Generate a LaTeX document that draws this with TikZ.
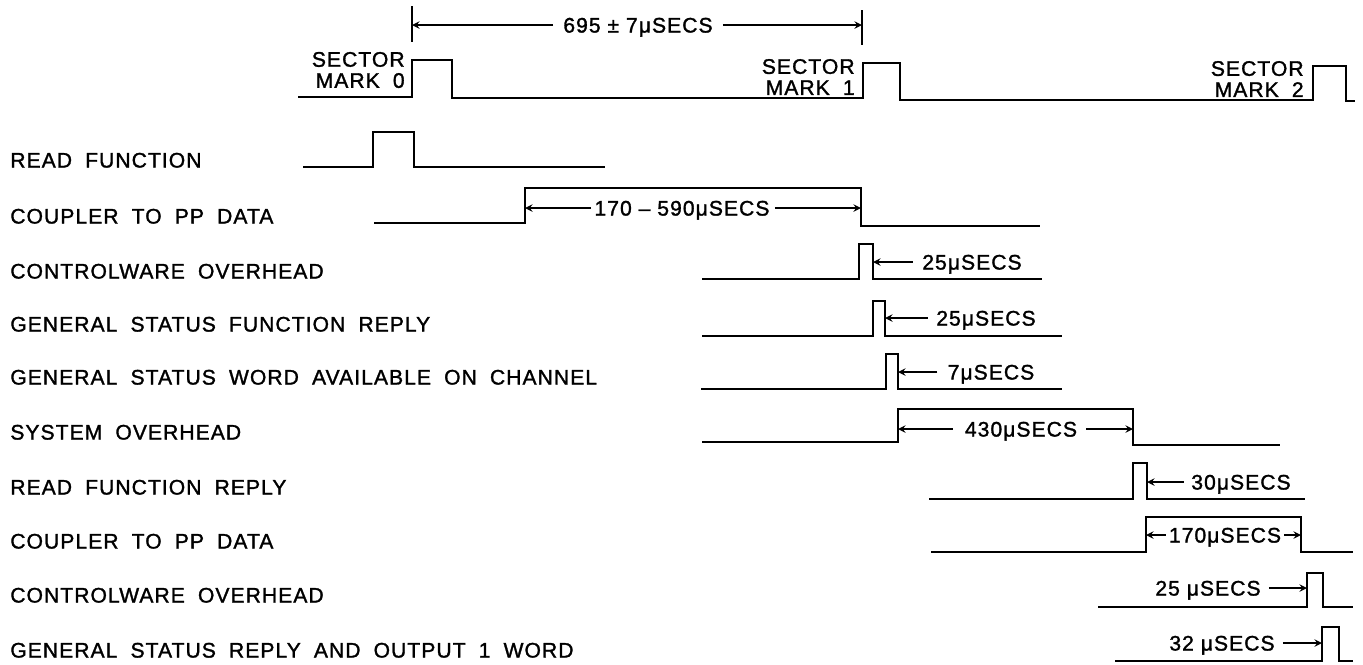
\documentclass[tikz,border=0pt]{standalone}
\usepackage{fontspec}
\setmainfont{Liberation Sans}[LetterSpace=5, WordSpace=1.9, FakeBold=1.4]
\newfontfamily\valuefont{Liberation Sans}[LetterSpace=5, FakeBold=1.4]
\begin{document}
\begin{tikzpicture}[x=0.02cm, y=-0.02cm, >=stealth]
    \tikzset{sig/.style={line width=1.3pt, line join=miter},
             dim/.style={->, line width=0.9pt},
             lbl/.style={inner sep=0pt, text height=8.6pt, text depth=0pt, font=\fontsize{12}{14}\selectfont},
             timelbl/.style={lbl, font=\valuefont\fontsize{12}{14}\selectfont},
             sectorlbl/.style={inner sep=0pt, align=right, anchor=east, font=\fontsize{12}{12}\selectfont}}
    \useasboundingbox (0,0) rectangle (1363,664);
    % signal names
    \node[lbl, anchor=west] (readfn) at (10,160) {READ FUNCTION};
    \node[lbl, anchor=west] (coupler) at (10,216) {COUPLER TO PP DATA};
    \node[lbl, anchor=west] (ctrlwr) at (10,271) {CONTROLWARE OVERHEAD};
    \node[lbl, anchor=west] (gsfnrep) at (10,324) {GENERAL STATUS FUNCTION REPLY};
    \node[lbl, anchor=west] (gsword) at (10,377) {GENERAL STATUS WORD AVAILABLE ON CHANNEL};
    \node[lbl, anchor=west] (sysovh) at (10,432) {SYSTEM OVERHEAD};
    \node[lbl, anchor=west] (readrep) at (10,487) {READ FUNCTION REPLY};
    \node[lbl, anchor=west] (coupler2) at (10,541) {COUPLER TO PP DATA};
    \node[lbl, anchor=west] (ctrlwr2) at (10,595) {CONTROLWARE OVERHEAD};
    \node[lbl, anchor=west] (gsreply) at (10,650) {GENERAL STATUS REPLY AND OUTPUT 1 WORD};
    % sector marks
    \node[sectorlbl] (sm0) at (405,70) {SECTOR\\MARK 0};
    \node[sectorlbl] (sm1) at (855,77) {SECTOR\\MARK 1};
    \node[sectorlbl] (sm2) at (1304,79) {SECTOR\\MARK 2};
    \draw[sig] (298,97) -- (412,97) |- (452,60) |- (863,98) |- (900,63) |- (1313,100) |- (1346,66) |- (1355,101);
    % waveforms
    \draw[sig] (303,167) -- (373,167) |- (414,132) |- (605,167);
    \draw[sig] (374,223) -- (525,223) |- (861,188) |- (1040,226);
    \draw[sig] (702,279) -- (859,279) |- (873,244) |- (1042,279);
    \draw[sig] (702,336) -- (873,336) |- (885,301) |- (1062,336);
    \draw[sig] (701,389) -- (886,389) |- (898,354) |- (1062,389);
    \draw[sig] (702,442) -- (898,442) |- (1133,409) |- (1280,445);
    \draw[sig] (929,499) -- (1133,499) |- (1147,463) |- (1305,499);
    \draw[sig] (931,552) -- (1146,552) |- (1301,517) |- (1353,552);
    \draw[sig] (1098,607) -- (1307,607) |- (1323,573) |- (1353,607);
    \draw[sig] (1115,661) -- (1322,661) |- (1339,627) |- (1353,661);
    % sector period
    \draw[line width=0.9pt] (412,6) -- (412,42);
    \draw[line width=0.9pt] (862,10) -- (862,45);
    \coordinate (m0) at (412,25);
    \coordinate (m1) at (862,25);
    \node[timelbl] (t695) at (638,25) {695 ± 7μSECS};
    \draw[dim] ([xshift=-0.2cm]t695.west) -- (m0);
    \draw[dim] ([xshift=0.2cm]t695.east) -- (m1);
    % timings
    \coordinate (c1r) at (525,208);
    \coordinate (c1f) at (861,208);
    \node[timelbl] (t170590) at (682,208) {170 – 590μSECS};
    \draw[dim] ([xshift=-0.06cm]t170590.west) -- (c1r);
    \draw[dim] ([xshift=0.1cm]t170590.east) -- (c1f);
    \coordinate (cwf) at (873,262);
    \node[timelbl] (t25a) at (972,262) {25μSECS};
    \draw[dim] ([xshift=-0.18cm]t25a.west) -- (cwf);
    \coordinate (gsf) at (885,318);
    \node[timelbl] (t25b) at (986,318) {25μSECS};
    \draw[dim] ([xshift=-0.16cm]t25b.west) -- (gsf);
    \coordinate (gwf) at (898,372);
    \node[timelbl] (t7) at (991,372) {7μSECS};
    \draw[dim] ([xshift=-0.2cm]t7.west) -- (gwf);
    \coordinate (sor) at (898,429);
    \coordinate (sof) at (1133,429);
    \node[timelbl] (t430) at (1021,429) {430μSECS};
    \draw[dim] ([xshift=-0.24cm]t430.west) -- (sor);
    \draw[dim] ([xshift=0.18cm]t430.east) -- (sof);
    \coordinate (rrf) at (1147,482);
    \node[timelbl] (t30) at (1241,482) {30μSECS};
    \draw[dim] ([xshift=-0.14cm]t30.west) -- (rrf);
    \coordinate (c2r) at (1146,535);
    \coordinate (c2f) at (1301,535);
    \node[timelbl] (t170) at (1225,535) {170μSECS};
    \draw[dim] ([xshift=-0.06cm]t170.west) -- (c2r);
    \draw[dim] ([xshift=0.06cm]t170.east) -- (c2f);
    \coordinate (cw2r) at (1307,588);
    \node[timelbl] (t25c) at (1208,588) {25 μSECS};
    \draw[dim] ([xshift=0.16cm]t25c.east) -- (cw2r);
    \coordinate (gs2r) at (1322,643);
    \node[timelbl] (t32) at (1222,643) {32 μSECS};
    \draw[dim] ([xshift=0.16cm]t32.east) -- (gs2r);
\end{tikzpicture}
\end{document}
